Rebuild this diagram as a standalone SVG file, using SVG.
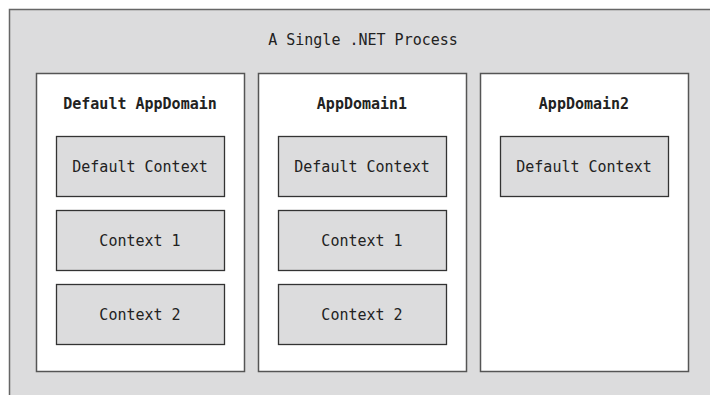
<svg xmlns="http://www.w3.org/2000/svg" width="710" height="395" viewBox="0 0 710 395">
<style>
.proc{fill:#dcdcdd;stroke:#666;stroke-width:1.5}
.dom{fill:#fff;stroke:#555;stroke-width:1.5}
.ctx{fill:#dcdcdd;stroke:#333;stroke-width:1.3}
text{font-family:"DejaVu Sans Mono","Liberation Mono",monospace;font-size:15px;fill:#222;text-anchor:middle}
.h{font-weight:bold}
</style>
<rect width="710" height="395" fill="#fff"/>
<g id="process">
<rect class="proc" x="9.5" y="9.5" width="710" height="400"/>
<text x="363" y="45">A Single .NET Process</text>
</g>
<g id="domain0">
<rect class="dom" x="36.5" y="73.5" width="208" height="298"/>
<text class="h" x="140" y="109">Default AppDomain</text>
</g>
<g id="domain1">
<rect class="dom" x="258.5" y="73.5" width="208" height="298"/>
<text class="h" x="362" y="109">AppDomain1</text>
</g>
<g id="domain2">
<rect class="dom" x="480.5" y="73.5" width="208" height="298"/>
<text class="h" x="584" y="109">AppDomain2</text>
</g>
<g id="d0c0"><rect class="ctx" x="56.5" y="136.5" width="168" height="60"/><text x="140" y="172">Default Context</text></g>
<g id="d0c1"><rect class="ctx" x="56.5" y="210.5" width="168" height="60"/><text x="140" y="246">Context 1</text></g>
<g id="d0c2"><rect class="ctx" x="56.5" y="284.5" width="168" height="60"/><text x="140" y="320">Context 2</text></g>
<g id="d1c0"><rect class="ctx" x="278.5" y="136.5" width="168" height="60"/><text x="362" y="172">Default Context</text></g>
<g id="d1c1"><rect class="ctx" x="278.5" y="210.5" width="168" height="60"/><text x="362" y="246">Context 1</text></g>
<g id="d1c2"><rect class="ctx" x="278.5" y="284.5" width="168" height="60"/><text x="362" y="320">Context 2</text></g>
<g id="d2c0"><rect class="ctx" x="500.5" y="136.5" width="168" height="60"/><text x="584" y="172">Default Context</text></g>
<g id="connectors"></g>
</svg>
